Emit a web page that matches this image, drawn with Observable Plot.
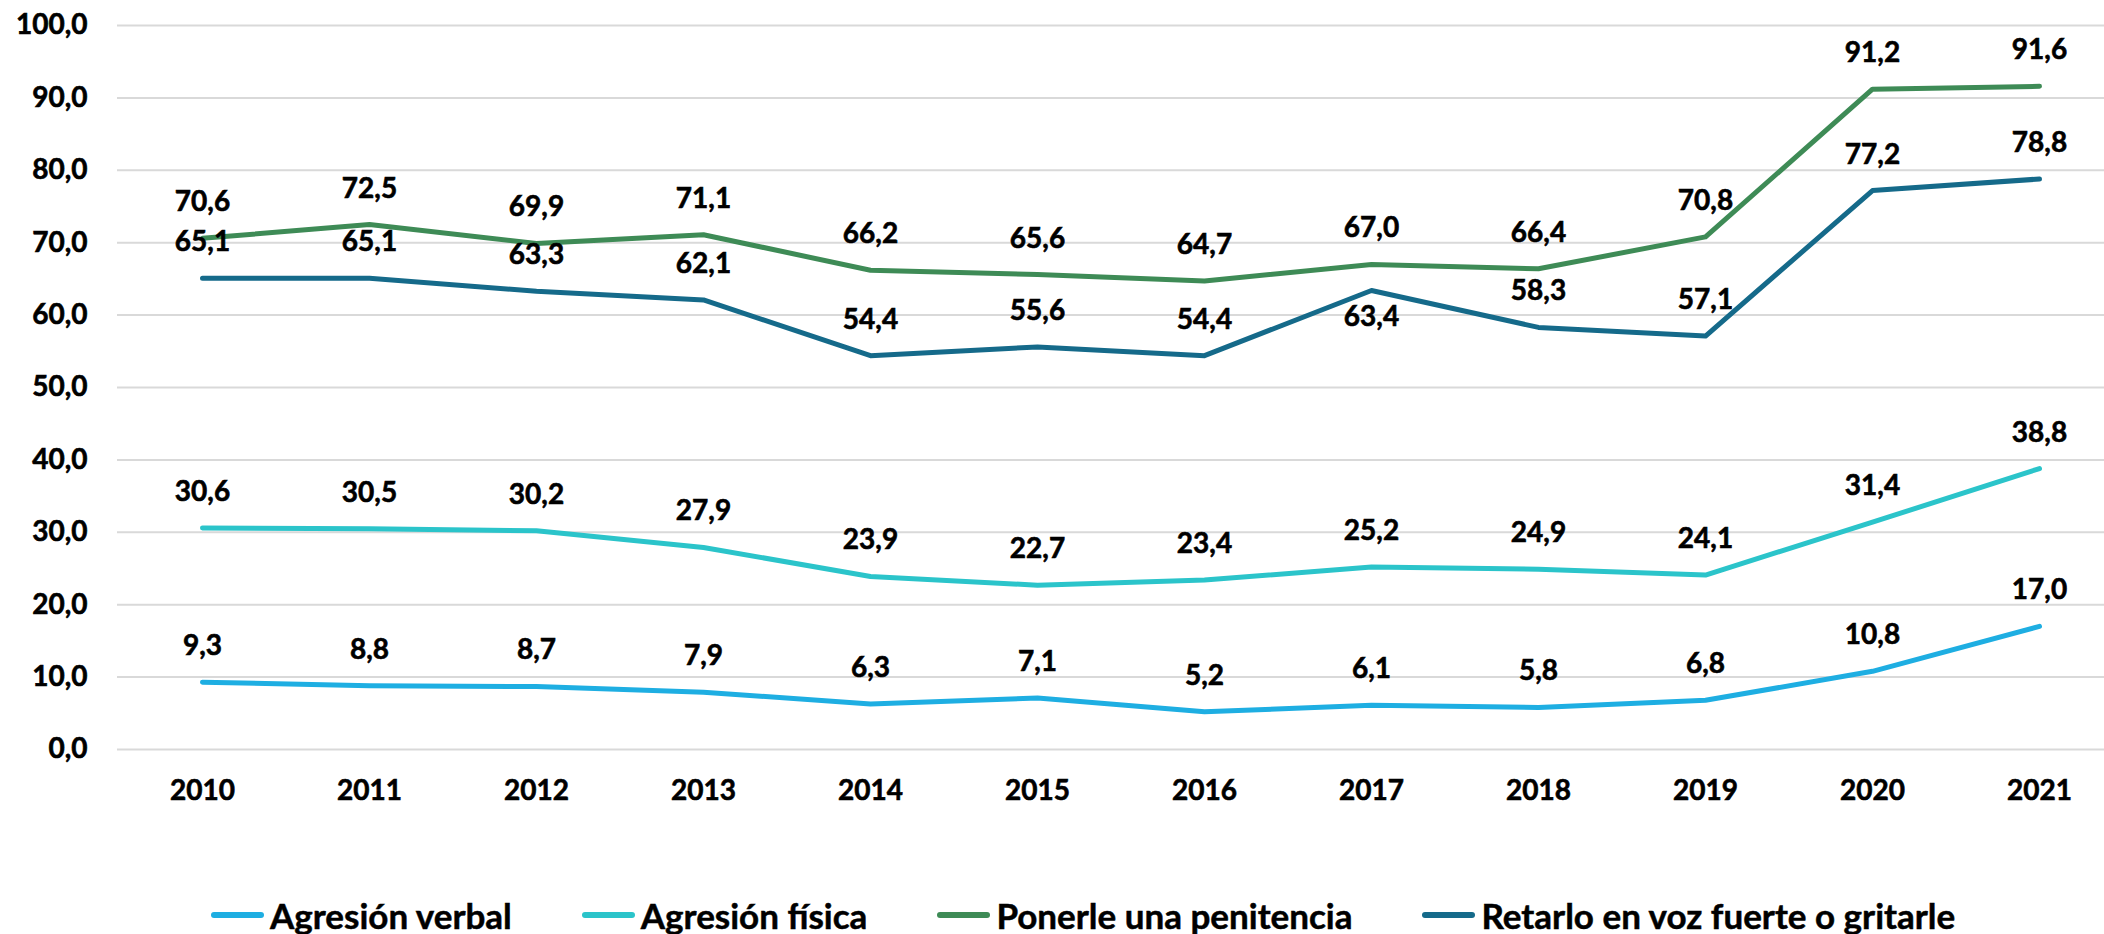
<!DOCTYPE html>
<html>
<head>
<meta charset="utf-8">
<script src="https://cdn.jsdelivr.net/npm/d3@7"></script>
<script src="https://cdn.jsdelivr.net/npm/@observablehq/plot@0.6"></script>
<style>
  html, body { margin: 0; padding: 0; background: #fff; }
  #chart { width: 2104px; height: 850px; }
  #chart svg text { stroke: #000; stroke-width: 0.6px; }
  #legend {
    display: flex; align-items: center; height: 40px;
    margin-top: 45px; padding-left: 211px;
    font-family: Lato, sans-serif; font-weight: bold; font-size: 35px; color: #000;
    -webkit-text-stroke: 0.5px #000;
  }
  .item { display: flex; align-items: center; margin-right: 70px; white-space: nowrap; }
  .sw { width: 53px; height: 6px; border-radius: 3px; margin-right: 6px; }
</style>
</head>
<body>
<div id="chart"></div>
<div id="legend"></div>
<script>
const years = [2010, 2011, 2012, 2013, 2014, 2015, 2016, 2017, 2018, 2019, 2020, 2021];
const series = ["Agresión verbal", "Agresión física", "Ponerle una penitencia", "Retarlo en voz fuerte o gritarle"];
const colors = ["#1EAEE2", "#2BC4CA", "#3E8B56", "#156A8A"];
const agresionVerbal = [9.3, 8.8, 8.7, 7.9, 6.3, 7.1, 5.2, 6.1, 5.8, 6.8, 10.8, 17.0];
const agresionFisica = [30.6, 30.5, 30.2, 27.9, 23.9, 22.7, 23.4, 25.2, 24.9, 24.1, 31.4, 38.8];
const penitencia = [70.6, 72.5, 69.9, 71.1, 66.2, 65.6, 64.7, 67.0, 66.4, 70.8, 91.2, 91.6];
const retarlo = [65.1, 65.1, 63.3, 62.1, 54.4, 55.6, 54.4, 63.4, 58.3, 57.1, 77.2, 78.8];
const yTicks = [0, 10, 20, 30, 40, 50, 60, 70, 80, 90, 100];

const values = [agresionVerbal, agresionFisica, penitencia, retarlo];
const data = series.flatMap((s, i) => years.map((yr, j) => ({series: s, year: yr, value: values[i][j]})));
const fmt = v => d3.format(".1f")(v).replace(".", ",");
const isBelow = d => d.series === series[3] && d.year === 2017;

const chart = Plot.plot({
  width: 2104, height: 850,
  marginLeft: 117, marginRight: 0, marginTop: 25, marginBottom: 101,
  x: {type: "point", domain: years, range: [199, 2042], padding: 0},
  y: {domain: [0, 100]},
  color: {domain: series, range: colors},
  style: {fontFamily: "Lato, sans-serif", fontWeight: "bold", fontSize: "28px", color: "#000", background: "#fff"},
  marks: [
    Plot.gridY(yTicks, {stroke: "#d9d9d9", strokeOpacity: 1, strokeWidth: 2}),
    Plot.axisY(yTicks, {tickSize: 0, tickPadding: 30, tickFormat: fmt, label: null, fontSize: 28}),
    Plot.axisX({tickSize: 0, tickPadding: 31, tickFormat: d => String(d), label: null, fontSize: 28}),
    Plot.line(data, {x: "year", y: "value", z: "series", stroke: "series", strokeWidth: 5, strokeLinecap: "round", strokeLinejoin: "round"}),
    Plot.text(data.filter(d => !isBelow(d)), {x: "year", y: "value", text: d => fmt(d.value), dy: -36, fontSize: 28, fill: "#000"}),
    Plot.text(data.filter(isBelow), {x: "year", y: "value", text: d => fmt(d.value), dy: 27, fontSize: 28, fill: "#000"})
  ]
});
document.getElementById("chart").appendChild(chart);

const legend = document.getElementById("legend");
series.forEach((s, i) => {
  const item = document.createElement("div");
  item.className = "item";
  const sw = document.createElement("span");
  sw.className = "sw";
  sw.style.background = colors[i];
  const t = document.createElement("span");
  t.textContent = s;
  item.appendChild(sw);
  item.appendChild(t);
  legend.appendChild(item);
});
</script>
</body>
</html>
